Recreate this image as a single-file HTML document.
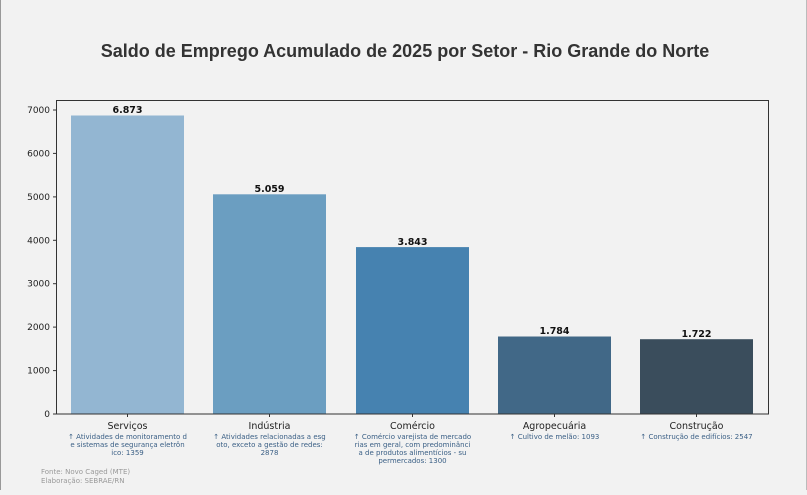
<!DOCTYPE html>
<html><head><meta charset="utf-8"><style>
html,body{margin:0;padding:0;background:#f2f2f2;}
body{width:807px;height:490px;overflow:hidden;}
</style></head><body>
<svg width="807" height="490" xmlns="http://www.w3.org/2000/svg" font-family="DejaVu Sans, Liberation Sans, sans-serif">
<rect x="0" y="0" width="807" height="490" fill="#f2f2f2"/>
<line x1="0.5" y1="0" x2="0.5" y2="490" stroke="#999" stroke-width="1"/>
<line x1="806.5" y1="0" x2="806.5" y2="490" stroke="#bbb" stroke-width="1"/>
<text x="405" y="57" text-anchor="middle" font-family="Liberation Sans, sans-serif" font-weight="bold" font-size="18" fill="#333">Saldo de Emprego Acumulado de 2025 por Setor - Rio Grande do Norte</text>
<g>
<rect x="71" y="115.5" width="113" height="298.5" fill="#93b6d2"/>
<rect x="213" y="194.3" width="113" height="219.7" fill="#6b9ec1"/>
<rect x="356" y="247.1" width="113" height="166.9" fill="#4682b0"/>
<rect x="498" y="336.5" width="113" height="77.5" fill="#416887"/>
<rect x="640" y="339.2" width="113" height="74.8" fill="#3a4d5c"/>
</g>
<rect x="56.5" y="100.5" width="712" height="313.5" fill="none" stroke="#333" stroke-width="1"/>
<g font-size="9" fill="#222" text-anchor="end">
<line x1="53" y1="414" x2="56" y2="414" stroke="#333"/><text x="50" y="417">0</text>
<line x1="53" y1="370.6" x2="56" y2="370.6" stroke="#333"/><text x="50" y="373.6">1000</text>
<line x1="53" y1="327.1" x2="56" y2="327.1" stroke="#333"/><text x="50" y="330.1">2000</text>
<line x1="53" y1="283.7" x2="56" y2="283.7" stroke="#333"/><text x="50" y="286.7">3000</text>
<line x1="53" y1="240.3" x2="56" y2="240.3" stroke="#333"/><text x="50" y="243.3">4000</text>
<line x1="53" y1="196.9" x2="56" y2="196.9" stroke="#333"/><text x="50" y="199.9">5000</text>
<line x1="53" y1="153.4" x2="56" y2="153.4" stroke="#333"/><text x="50" y="156.4">6000</text>
<line x1="53" y1="110" x2="56" y2="110" stroke="#333"/><text x="50" y="113">7000</text>
</g>
<g font-size="9.5" font-weight="bold" fill="#111" text-anchor="middle">
<text x="127.5" y="113">6.873</text>
<text x="269.5" y="192">5.059</text>
<text x="412.5" y="245">3.843</text>
<text x="554.5" y="334">1.784</text>
<text x="696.5" y="337">1.722</text>
</g>
<g stroke="#333">
<line x1="127.5" y1="414" x2="127.5" y2="417"/><line x1="269.5" y1="414" x2="269.5" y2="417"/><line x1="412.5" y1="414" x2="412.5" y2="417"/><line x1="554.5" y1="414" x2="554.5" y2="417"/><line x1="696.5" y1="414" x2="696.5" y2="417"/>
</g>
<g font-size="9.5" fill="#222" text-anchor="middle">
<text x="127.5" y="429">Serviços</text>
<text x="269.5" y="429">Indústria</text>
<text x="412.5" y="429">Comércio</text>
<text x="554.5" y="429">Agropecuária</text>
<text x="696.5" y="429">Construção</text>
</g>
<g font-size="7" fill="#3a5f85" text-anchor="middle">
<text x="127.5" y="439">↑ Atividades de monitoramento d</text>
<text x="127.5" y="447">e sistemas de segurança eletrôn</text>
<text x="127.5" y="455">ico: 1359</text>
<text x="269.5" y="439">↑ Atividades relacionadas a esg</text>
<text x="269.5" y="447">oto, exceto a gestão de redes:</text>
<text x="269.5" y="455">2878</text>
<text x="412.5" y="439">↑ Comércio varejista de mercado</text>
<text x="412.5" y="447">rias em geral, com predominânci</text>
<text x="412.5" y="455">a de produtos alimentícios - su</text>
<text x="412.5" y="463">permercados: 1300</text>
<text x="554.5" y="439">↑ Cultivo de melão: 1093</text>
<text x="696.5" y="439">↑ Construção de edifícios: 2547</text>
</g>
<g font-size="7" fill="#999">
<text x="41" y="474">Fonte: Novo Caged (MTE)</text>
<text x="41" y="483">Elaboração: SEBRAE/RN</text>
</g>
</svg>
</body></html>
